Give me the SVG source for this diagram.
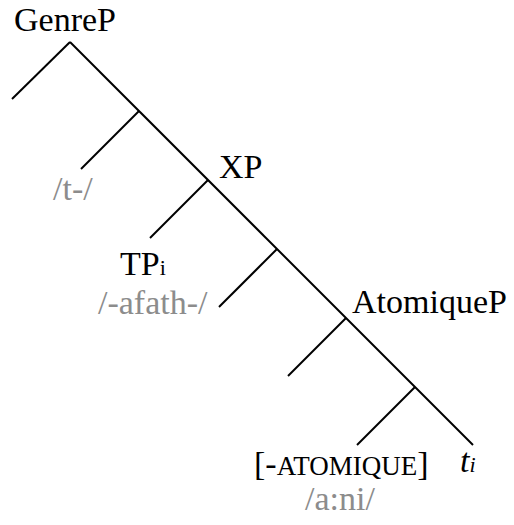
<svg xmlns="http://www.w3.org/2000/svg" width="514" height="525" viewBox="0 0 514 525">
<style>
.e{stroke:#000;stroke-width:2;fill:none;stroke-linecap:butt}
.l{font-family:"Liberation Serif","Times New Roman",serif;font-size:34px;fill:#000}
.g{font-family:"Liberation Serif","Times New Roman",serif;font-size:34px;fill:#8c8c8c}
</style>
<rect width="514" height="525" fill="#fff"/>
<g id="edges">
<line class="e" x1="70" y1="42" x2="473" y2="445"/>
<line class="e" x1="70" y1="42" x2="12" y2="99"/>
<line class="e" x1="139" y1="111" x2="81" y2="169"/>
<line class="e" x1="208" y1="180" x2="150" y2="238"/>
<line class="e" x1="277" y1="249" x2="219" y2="307"/>
<line class="e" x1="346" y1="318" x2="288" y2="376"/>
<line class="e" x1="415" y1="387" x2="357" y2="445"/>
</g>
<g id="genreP"><text class="l" x="14" y="31">GenreP</text></g>
<g id="t"><text class="g" x="53" y="200">/t-/</text></g>
<g id="xp"><text class="l" x="219" y="178">XP</text></g>
<g id="tp"><text class="l" x="120" y="275">TP<tspan font-size="22">i</tspan></text><text class="g" x="98" y="314">/-afath-/</text></g>
<g id="atomiqueP"><text class="l" x="352" y="313">AtomiqueP</text></g>
<g id="feature"><text class="l" x="254" y="475">[-<tspan font-size="27">ATOMIQUE</tspan>]</text><text class="g" x="305" y="510">/a:ni/</text></g>
<g id="trace"><text class="l" x="460" y="472" font-style="italic">t<tspan font-size="22">i</tspan></text></g>
</svg>
